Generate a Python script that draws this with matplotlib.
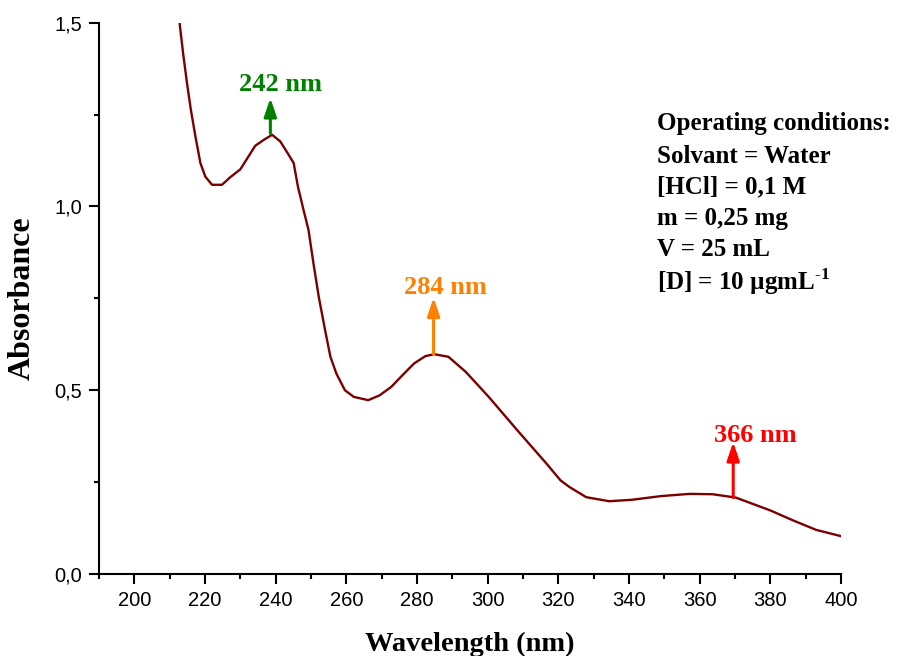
import numpy as np
import matplotlib
matplotlib.use("Agg")
import matplotlib.pyplot as plt
from matplotlib.ticker import MultipleLocator, FuncFormatter

# UV spectrum
wavelength = [212.8, 213.8, 214.9, 216.0, 217.3, 218.7, 220.1, 222.0, 224.8, 227.2,
              230.0, 232.3, 234.2, 236.6, 239.0, 241.3, 243.4, 245.1, 246.3, 247.9,
              249.3, 250.7, 252.2, 254.0, 255.5, 257.2, 259.6, 262.1, 266.2, 269.4,
              272.7, 275.9, 279.2, 282.4, 284.9, 288.9, 293.8, 300.3, 308.4, 316.6,
              320.6, 323.1, 327.9, 334.4, 340.9, 349.1, 357.2, 363.7, 370.2, 380.0,
              386.4, 393.0, 400.0]
absorbance = [1.50, 1.417, 1.336, 1.263, 1.190, 1.118, 1.081, 1.059, 1.059, 1.080,
              1.101, 1.136, 1.165, 1.181, 1.195, 1.177, 1.145, 1.118, 1.054, 0.990,
              0.936, 0.845, 0.754, 0.663, 0.591, 0.545, 0.500, 0.482, 0.473, 0.486,
              0.509, 0.541, 0.573, 0.593, 0.598, 0.591, 0.550, 0.482, 0.391, 0.301,
              0.255, 0.237, 0.209, 0.198, 0.202, 0.212, 0.218, 0.217, 0.208, 0.173,
              0.146, 0.120, 0.103]

# peak markers: label, arrow x, arrow base, arrow tip, label position, colour
peak_labels = ["242 nm", "284 nm", "366 nm"]
peak_x = [238.5, 284.7, 369.5]
peak_base = [1.199, 0.598, 0.208]
peak_tip = [1.295, 0.752, 0.359]
peak_text_x = [241.5, 288.0, 375.7]
peak_text_y = [1.313, 0.761, 0.359]
peak_colors = ["#008000", "#FF8000", "#FF0000"]

conditions = ["Operating conditions:", "Solvant = Water", "[HCl] = 0,1 M",
              "m = 0,25 mg", "V = 25 mL", r"[D] = 10 µgmL$^{\mathbf{\text{-}1}}$"]

plt.rcParams['mathtext.fontset'] = 'custom'
plt.rcParams['mathtext.rm'] = 'Liberation Serif'
plt.rcParams['mathtext.bf'] = 'Liberation Serif:bold'

serif = 'Liberation Serif'
sans = 'Liberation Sans'

fig = plt.figure(figsize=(9, 6.56), dpi=100)
ax = fig.add_axes([0.110, 0.125, 0.8244, 0.8404])

ax.plot(wavelength, absorbance, color='#7A0000', lw=1.7, zorder=3)

for lab, x, b, t, tx, ty, c in zip(peak_labels, peak_x, peak_base, peak_tip,
                                   peak_text_x, peak_text_y, peak_colors):
    ax.annotate('', xy=(x, t), xytext=(x, b),
                arrowprops=dict(arrowstyle='-|>,head_length=0.5,head_width=0.17',
                                color=c, lw=2.2, mutation_scale=22,
                                shrinkA=0, shrinkB=0))
    ax.text(tx, ty, lab, color=c, fontsize=19, fontweight='bold',
            family=serif, ha='center', va='baseline')

ax.set_xlim(190, 400)
ax.set_ylim(0, 1.5)
ax.xaxis.set_major_locator(MultipleLocator(20))
ax.xaxis.set_minor_locator(MultipleLocator(10))
ax.yaxis.set_major_locator(MultipleLocator(0.5))
ax.yaxis.set_minor_locator(MultipleLocator(0.25))
ax.yaxis.set_major_formatter(FuncFormatter(lambda v, p: f"{v:.1f}".replace('.', ',')))

for s in ['top', 'right']:
    ax.spines[s].set_visible(False)
for s in ['left', 'bottom']:
    ax.spines[s].set_linewidth(1.5)

ax.tick_params(which='major', direction='out', length=7, width=1.5, pad=5, labelsize=14.5)
ax.tick_params(which='minor', direction='out', length=3.6, width=1.5)
for lbl in ax.get_xticklabels() + ax.get_yticklabels():
    lbl.set_family(sans)

fig.text(22 / 900, 0.545, 'Absorbance', rotation=90, ha='center', va='center',
         fontsize=23, fontweight='bold', family=serif)
fig.text(470 / 900, 5 / 656, 'Wavelength (nm)', ha='center', va='baseline',
         fontsize=20.5, fontweight='bold', family=serif)

baselines = [130, 163, 193, 225, 256, 290]
for line, yb in zip(conditions, baselines):
    fig.text(657 / 900, (656 - yb) / 656, line, ha='left', va='baseline',
             fontsize=18, fontweight='bold', family=serif)

fig.savefig('out.png', dpi=100)
